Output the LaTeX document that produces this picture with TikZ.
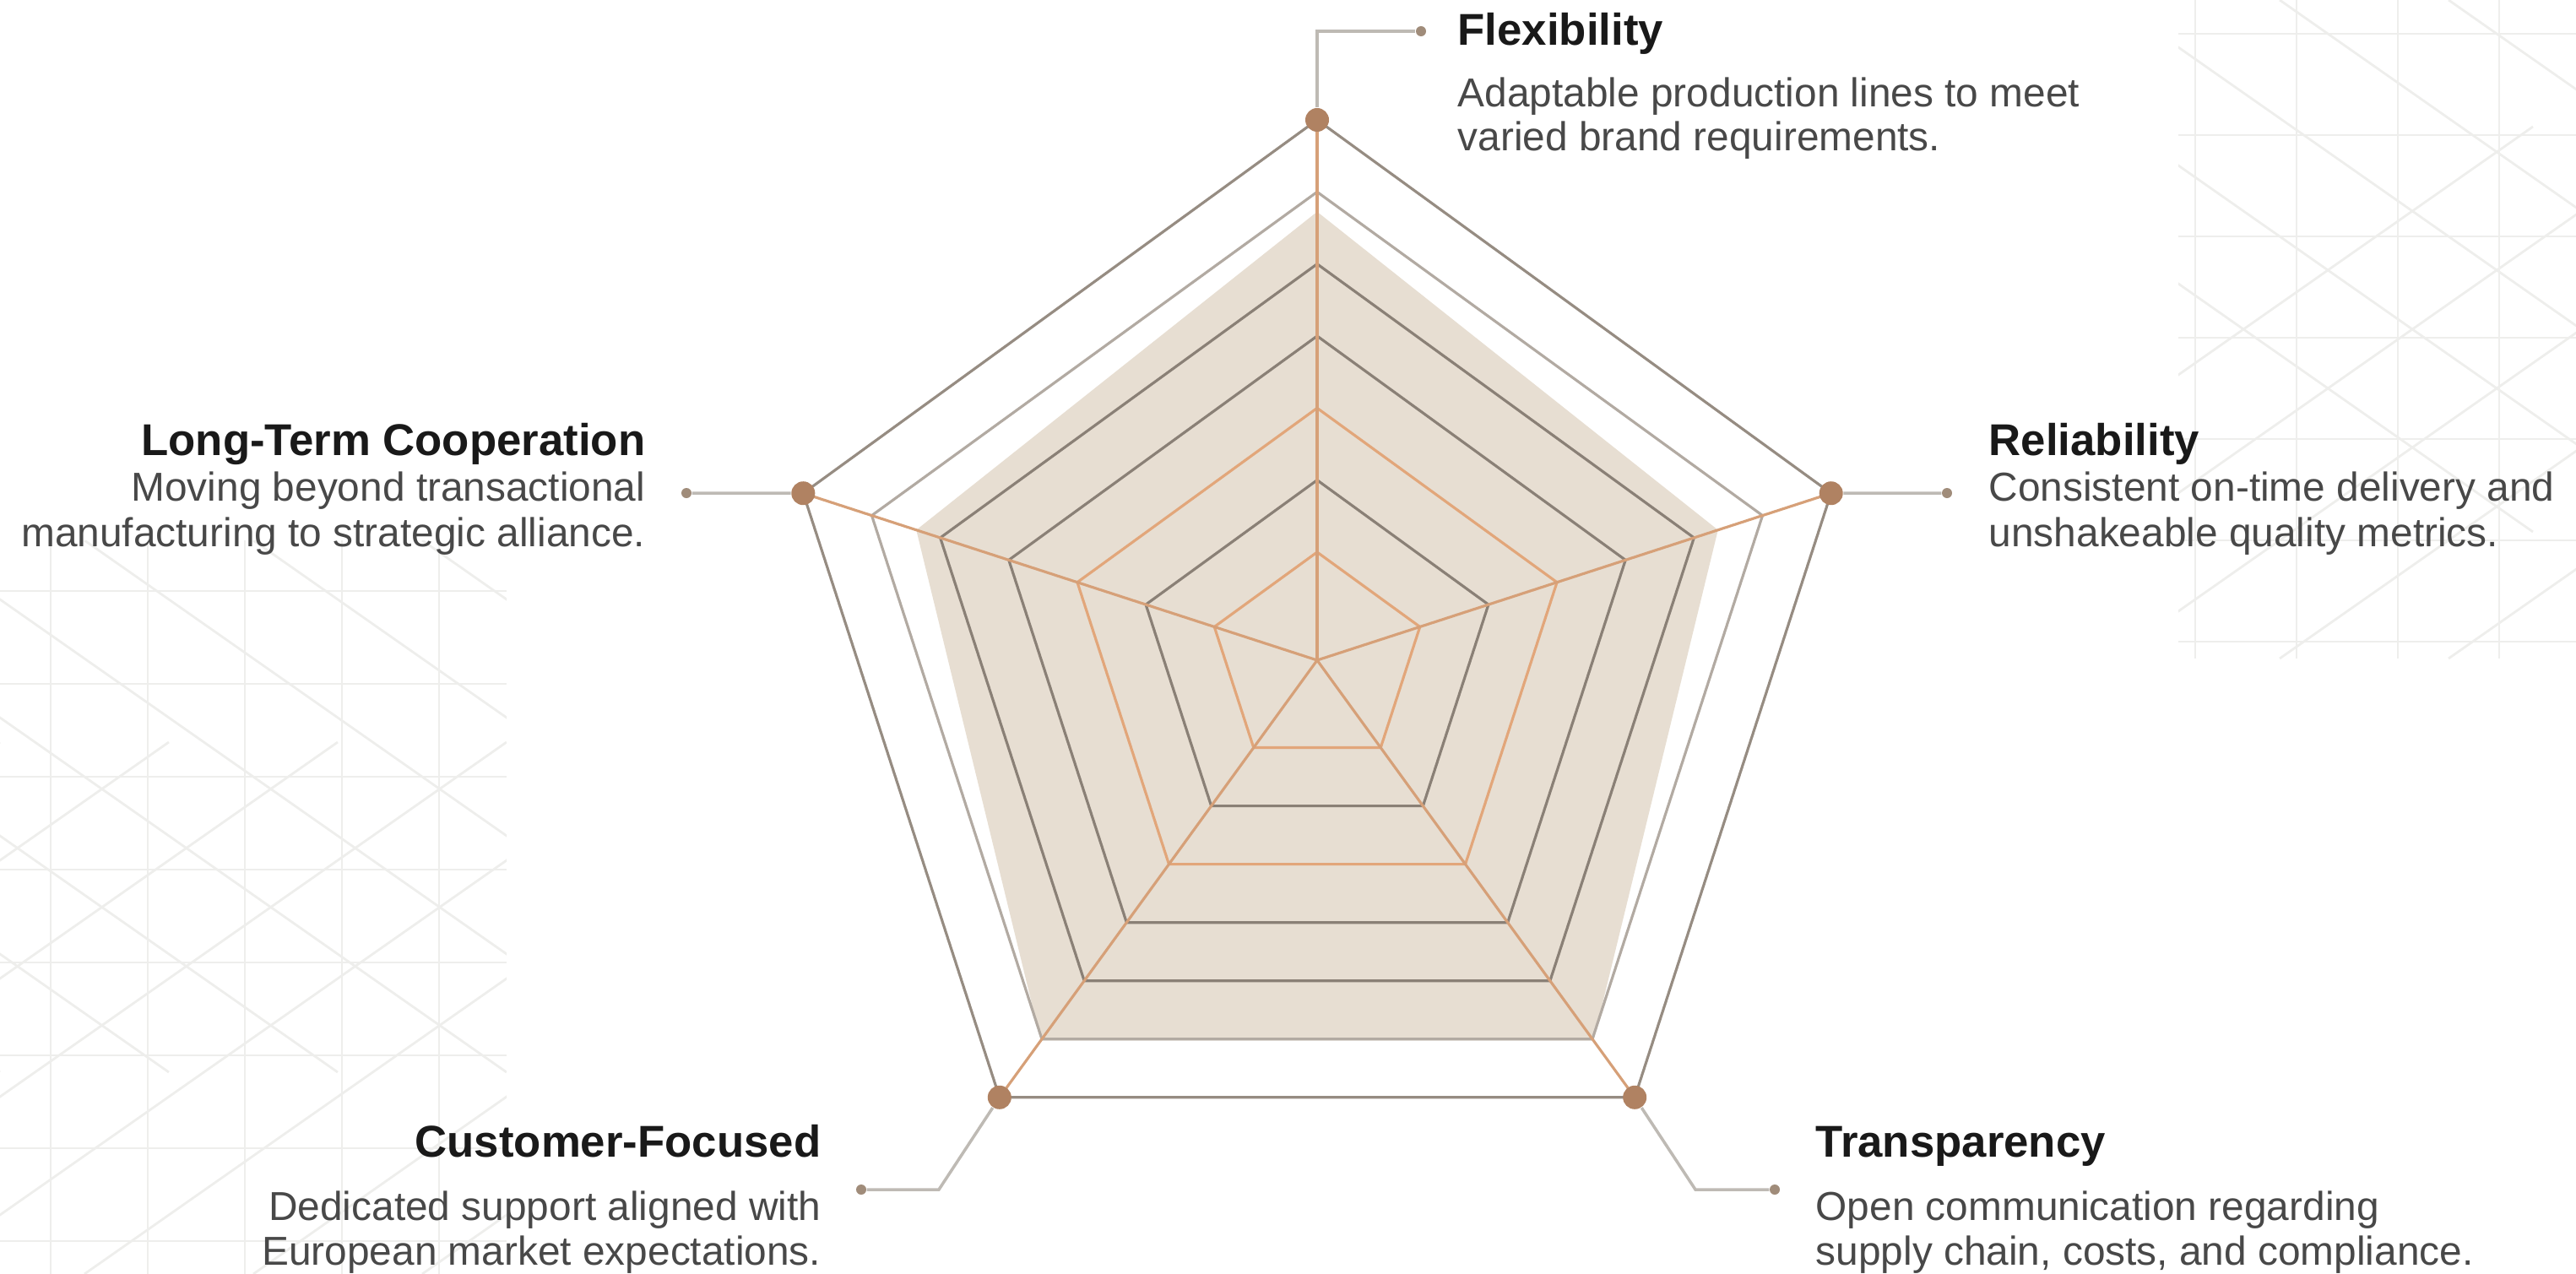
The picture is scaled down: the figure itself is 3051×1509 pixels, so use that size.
\documentclass[tikz,border=0pt]{standalone}
\usepackage{fontspec}
\setmainfont{Liberation Sans}
\usetikzlibrary{positioning}

\definecolor{griddark}{RGB}{138,128,118}
\definecolor{gridorange}{RGB}{226,166,122}
\definecolor{gridlight}{RGB}{178,170,162}
\definecolor{gridouter}{RGB}{150,140,130}
\definecolor{spokeorange}{RGB}{214,160,120}
\definecolor{areafill}{RGB}{231,222,210}
\definecolor{dotbrown}{RGB}{176,130,98}
\definecolor{dotsmall}{RGB}{160,140,122}
\definecolor{connline}{RGB}{190,186,180}
\definecolor{latticegray}{RGB}{238,238,236}
\definecolor{titleblack}{RGB}{25,25,25}
\definecolor{descgray}{RGB}{72,72,72}

\tikzset{
  griddark/.style={draw=griddark, line width=0.9pt, line join=round},
  gridorange/.style={draw=gridorange, line width=0.9pt, line join=round},
  gridlight/.style={draw=gridlight, line width=0.9pt, line join=round},
  gridouter/.style={draw=gridouter, line width=0.9pt, line join=round},
  spoke/.style={draw=spokeorange, line width=0.9pt},
  vdot/.style={circle, fill=dotbrown, inner sep=0pt, minimum size=0.28cm},
  sdot/.style={circle, fill=dotsmall, inner sep=0pt, minimum size=0.12cm},
  conn/.style={draw=connline, line width=1pt},
  lattice/.style={draw=latticegray, line width=0.8pt},
  title/.style={font=\bfseries\fontsize{15}{18}\selectfont, text=titleblack, inner sep=0pt},
  desc/.style={font=\fontsize{13.6}{16}\selectfont, text=descgray, inner sep=0pt}
}

\begin{document}
\begin{tikzpicture}[x=0.01cm, y=-0.01cm]
  \useasboundingbox (0,0) rectangle (3051,1509);

  % faint lattice in the corners
  \begin{scope}
    \clip (0,640) rectangle (600,1509);
    \foreach \x in {60,175,290,405,520} \draw[lattice] (\x,640) -- (\x,1509);
    \foreach \y in {700,810,...,1470} \draw[lattice] (0,\y) -- (600,\y);
    \foreach \s in {-900,-700,...,500} {
      \draw[lattice] (\s,640) -- ++(900,630);
      \draw[lattice] (\s,1509) -- ++(900,-630);
    }
  \end{scope}
  \begin{scope}
    \clip (2580,0) rectangle (3051,780);
    \foreach \x in {2600,2720,2840,2960} \draw[lattice] (\x,0) -- (\x,780);
    \foreach \y in {40,160,...,760} \draw[lattice] (2580,\y) -- (3051,\y);
    \foreach \s in {2100,2300,...,3300} {
      \draw[lattice] (\s,0) -- ++(900,630);
      \draw[lattice] (\s,780) -- ++(900,-630);
    }
  \end{scope}

  % radar
  \begin{scope}[shift={(1560,782)}]
    \fill[areafill] (-90:0.83*640) -- (-18:0.78*640) -- (54:0.87*640)
      -- (126:0.87*640) -- (198:0.78*640) -- cycle;
    \foreach \k/\col in {1/gridorange,2/griddark,3/gridorange,4/griddark,
                         5/griddark,6/gridlight,7/gridouter} {
      \pgfmathsetmacro\rr{640*(0.2+(\k-1)*2/15)}
      \draw[\col] (-90:\rr) -- (-18:\rr) -- (54:\rr) -- (126:\rr) -- (198:\rr) -- cycle;
    }
    \foreach \a in {-90,-18,54,126,198} \draw[spoke] (0,0) -- (\a:640);

    \node[vdot] (vflex) at (-90:640) {};
    \node[vdot] (vrel)  at (-18:640) {};
    \node[vdot] (vtran) at (54:640)  {};
    \node[vdot] (vcust) at (126:640) {};
    \node[vdot] (vlong) at (198:640) {};
  \end{scope}

  % leaders
  \node[sdot] (sflex) at (1683,37)   {};
  \node[sdot] (srel)  at (2306,584)  {};
  \node[sdot] (slong) at (813,584)   {};
  \node[sdot] (scust) at (1020,1409) {};
  \node[sdot] (stran) at (2102,1409) {};
  \coordinate (kcust) at (1112,1409);
  \coordinate (ktran) at (2008,1409);

  \draw[conn] (vflex) |- (sflex);
  \draw[conn] (vrel) -- (srel);
  \draw[conn] (vlong) -- (slong);
  \draw[conn] (vcust) -- (kcust) -- (scust);
  \draw[conn] (vtran) -- (ktran) -- (stran);

  % labels
  \node[title, anchor=base west] (flex)  at (1726,54)  {Flexibility};
  \node[desc,  anchor=base west] (flex1) at (1726,126) {Adaptable production lines to meet};
  \node[desc,  anchor=base west] (flex2) at (1726,178) {varied brand requirements.};

  \node[title, anchor=base west] (rel)  at (2355,539) {Reliability};
  \node[desc,  anchor=base west] (rel1) at (2355,593) {Consistent on-time delivery and};
  \node[desc,  anchor=base west] (rel2) at (2355,647) {unshakeable quality metrics.};

  \node[title, anchor=base east] (long)  at (765,539) {Long-Term Cooperation};
  \node[desc,  anchor=base east] (long1) at (765,593) {Moving beyond transactional};
  \node[desc,  anchor=base east] (long2) at (765,647) {manufacturing to strategic alliance.};

  \node[title, anchor=base east] (cust)  at (973,1370) {Customer-Focused};
  \node[desc,  anchor=base east] (cust1) at (973,1445) {Dedicated support aligned with};
  \node[desc,  anchor=base east] (cust2) at (973,1498) {European market expectations.};

  \node[title, anchor=base west] (tran)  at (2150,1370) {Transparency};
  \node[desc,  anchor=base west] (tran1) at (2150,1445) {Open communication regarding};
  \node[desc,  anchor=base west] (tran2) at (2150,1498) {supply chain, costs, and compliance.};
\end{tikzpicture}
\end{document}
